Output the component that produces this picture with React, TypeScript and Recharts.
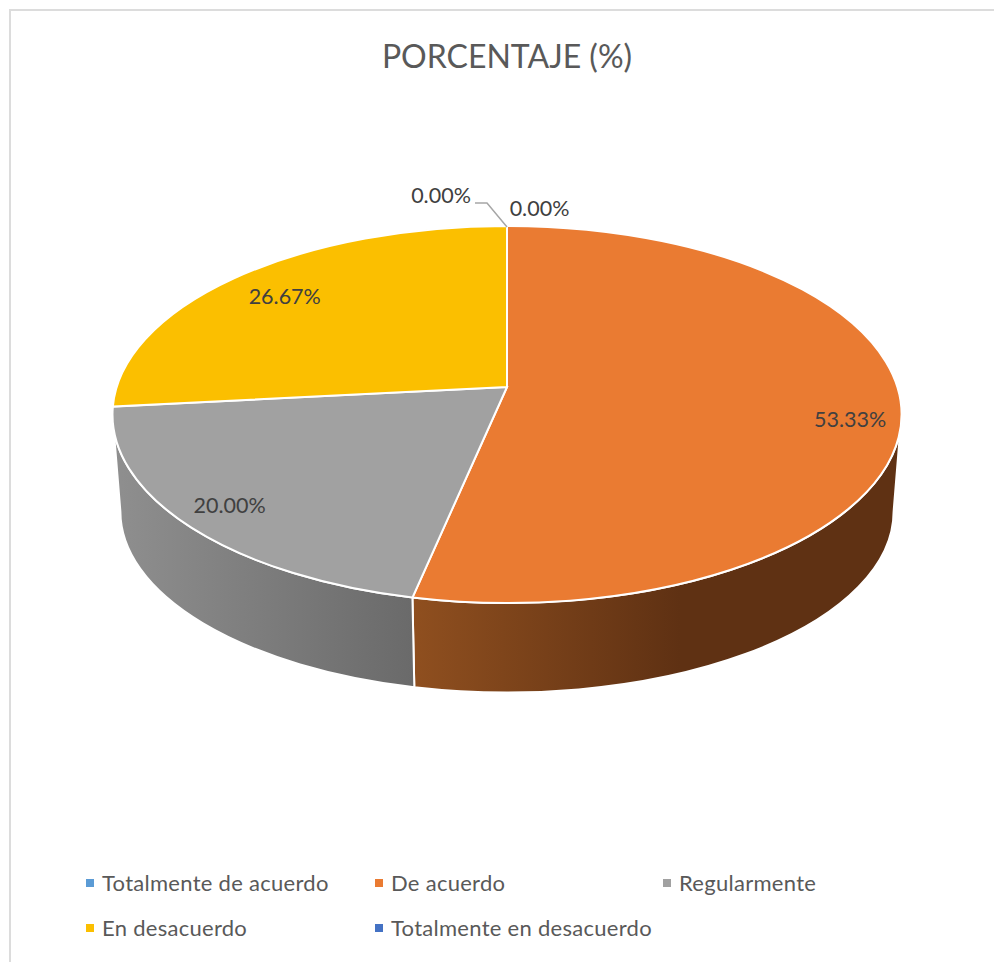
import { Legend, Pie, PieChart } from 'recharts'

const CATEGORIES = [
  'Totalmente de acuerdo',
  'De acuerdo',
  'Regularmente',
  'En desacuerdo',
  'Totalmente en desacuerdo',
]
const PERCENTAGES = [0, 53.33, 20, 26.67, 0]
const COLORS = ['#5b9bd5', '#ea7b32', '#a1a1a1', '#fbbf00', '#4472c4']

const tableData = CATEGORIES.map((name, i) => ({
  name,
  value: PERCENTAGES[i],
  fill: COLORS[i],
}))

// tilt of the 3D pie, as measured on the picture
const TILT = 0.478
const PERSPECTIVE = 0.146
const WALL_DEPTH = 97
const WALL_SCALE_X = 0.98
const WALL_SCALE_Y = 0.96
const HORIZON_FRONT = (Math.acos(-PERSPECTIVE) * 180) / Math.PI
const HORIZON_BACK = 360 - HORIZON_FRONT

const WALL_FILL: Record<string, string> = {
  '#ea7b32': 'url(#wallOrange)',
  '#a1a1a1': 'url(#wallGray)',
  '#fbbf00': '#8f6c00',
  '#5b9bd5': '#2f5f8c',
  '#4472c4': '#26437a',
}

// label position relative to the rim point at the slice's middle angle
const LABEL_OFFSETS = [
  [32.5, -16],
  [-51, 13.5],
  [44, -17],
  [42, 23.5],
  [-66, -29],
]

const round = (n: number) => Math.round(n * 100) / 100

// clockwise degrees from the top of the pie to a point on the tilted rim
function rimPoint(cw: number, cx: number, cy: number, rx: number) {
  const rad = (cw * Math.PI) / 180
  const u = Math.sin(rad)
  const v = Math.cos(rad)
  const w = 1 + PERSPECTIVE * v
  const c = Math.sqrt(1 - PERSPECTIVE * PERSPECTIVE)
  return {
    x: cx + (rx * c * u) / w,
    y: cy - (rx * TILT * (v + PERSPECTIVE)) / w,
  }
}

function wallPath(a: number, b: number, cx: number, cy: number, rx: number) {
  const ry = rx * TILT
  const lowRx = rx * WALL_SCALE_X
  const lowRy = ry * WALL_SCALE_Y
  const lowCy = cy + WALL_DEPTH
  const lower = (p: { x: number; y: number }) => {
    const x = cx + (p.x - cx) * WALL_SCALE_X
    const t = Math.min(1, Math.abs(x - cx) / lowRx)
    return { x, y: lowCy + lowRy * Math.sqrt(1 - t * t) }
  }
  const pa = rimPoint(a, cx, cy, rx)
  const pb = rimPoint(b, cx, cy, rx)
  const la = lower(pa)
  const lb = lower(pb)
  return [
    `M ${round(pa.x)} ${round(pa.y)}`,
    `A ${rx} ${ry} 0 0 1 ${round(pb.x)} ${round(pb.y)}`,
    `L ${round(lb.x)} ${round(lb.y)}`,
    `A ${lowRx} ${lowRy} 0 0 0 ${round(la.x)} ${round(la.y)}`,
    'Z',
  ].join(' ')
}

function Slice3D(props: any) {
  const { cx, cy, outerRadius: rx, startAngle, endAngle, fill } = props
  const from = 90 - startAngle
  const to = 90 - endAngle
  if (to - from <= 0) return <g />

  const ry = rx * TILT
  const start = rimPoint(from, cx, cy, rx)
  const end = rimPoint(to, cx, cy, rx)
  const apexY = cy - ry * PERSPECTIVE
  const wallFrom = Math.max(from, HORIZON_FRONT)
  const wallTo = Math.min(to, HORIZON_BACK)
  const large = to - from > 176 ? 1 : 0

  return (
    <g>
      {wallTo > wallFrom && (
        <path
          d={wallPath(wallFrom, wallTo, cx, cy, rx)}
          fill={WALL_FILL[fill]}
          stroke="#ffffff"
          strokeWidth={2}
        />
      )}
      <path
        d={`M ${cx} ${round(apexY)} L ${round(start.x)} ${round(start.y)} A ${rx} ${ry} 0 ${large} 1 ${round(end.x)} ${round(end.y)} Z`}
        fill={fill}
        stroke="#ffffff"
        strokeWidth={2}
      />
    </g>
  )
}

function SliceLabel(props: any) {
  const { cx, cy, outerRadius, midAngle, index, value } = props
  const rim = rimPoint(90 - midAngle, cx, cy, outerRadius)
  const [dx, dy] = LABEL_OFFSETS[index]
  const x = rim.x + dx
  const y = rim.y + dy
  return (
    <g>
      {index === 4 && (
        <polyline
          points={`${x + 34},${y + 6} ${x + 46},${y + 6} ${rim.x},${rim.y + 1}`}
          fill="none"
          stroke="#a6a6a6"
          strokeWidth={1.5}
        />
      )}
      <text
        x={x}
        y={y - 1.5}
        textAnchor="middle"
        dominantBaseline="central"
        fontFamily="Lato"
        fontSize={21.5}
        fill="#404040"
      >
        {value.toFixed(2)}%
      </text>
    </g>
  )
}

function LegendGrid({ payload }: any) {
  return (
    <div
      style={{
        display: 'grid',
        gridTemplateColumns: '289px 288px 220px',
        gridAutoRows: '45px',
        fontFamily: 'Lato',
        fontSize: 22,
        letterSpacing: 0.28,
        color: '#595959',
      }}
    >
      {(payload ?? []).map((entry: any) => (
        <div key={entry.value} style={{ display: 'flex', alignItems: 'center' }}>
          <span style={{ width: 8, height: 8, background: entry.color, marginRight: 8 }} />
          {entry.value}
        </div>
      ))}
    </div>
  )
}

export default function App() {
  return (
    <div style={{ position: 'absolute', left: 0, top: 0, background: '#ffffff' }}>
      <PieChart width={994} height={962} margin={{ top: 0, right: 0, bottom: 0, left: 0 }}>
        <defs>
          <linearGradient id="wallOrange" gradientUnits="userSpaceOnUse" x1="414" y1="0" x2="680" y2="0">
            <stop offset="0" stopColor="#8f4f1f" />
            <stop offset="1" stopColor="#5f3113" />
          </linearGradient>
          <linearGradient id="wallGray" gradientUnits="userSpaceOnUse" x1="113" y1="0" x2="414" y2="0">
            <stop offset="0" stopColor="#8f8f8f" />
            <stop offset="1" stopColor="#6a6a6a" />
          </linearGradient>
        </defs>
        <path d="M 10 962 V 10 H 994" fill="none" stroke="#dcdcdc" strokeWidth={2} />
        <text
          x={507}
          y={55}
          textAnchor="middle"
          dominantBaseline="central"
          fontFamily="Lato"
          fontSize={32}
          fill="#595959"
        >
          PORCENTAJE (%)
        </text>
        <Pie
          data={tableData}
          dataKey="value"
          nameKey="name"
          cx={507}
          cy={414.5}
          innerRadius={0}
          outerRadius={394.5}
          startAngle={90}
          endAngle={-270}
          stroke="none"
          legendType="square"
          shape={Slice3D}
          label={SliceLabel}
          labelLine={false}
          isAnimationActive={false}
        />
        <Legend
          content={LegendGrid}
          itemSorter={null}
          wrapperStyle={{ left: 86, top: 860, bottom: 'auto', width: 800 }}
        />
      </PieChart>
    </div>
  )
}
